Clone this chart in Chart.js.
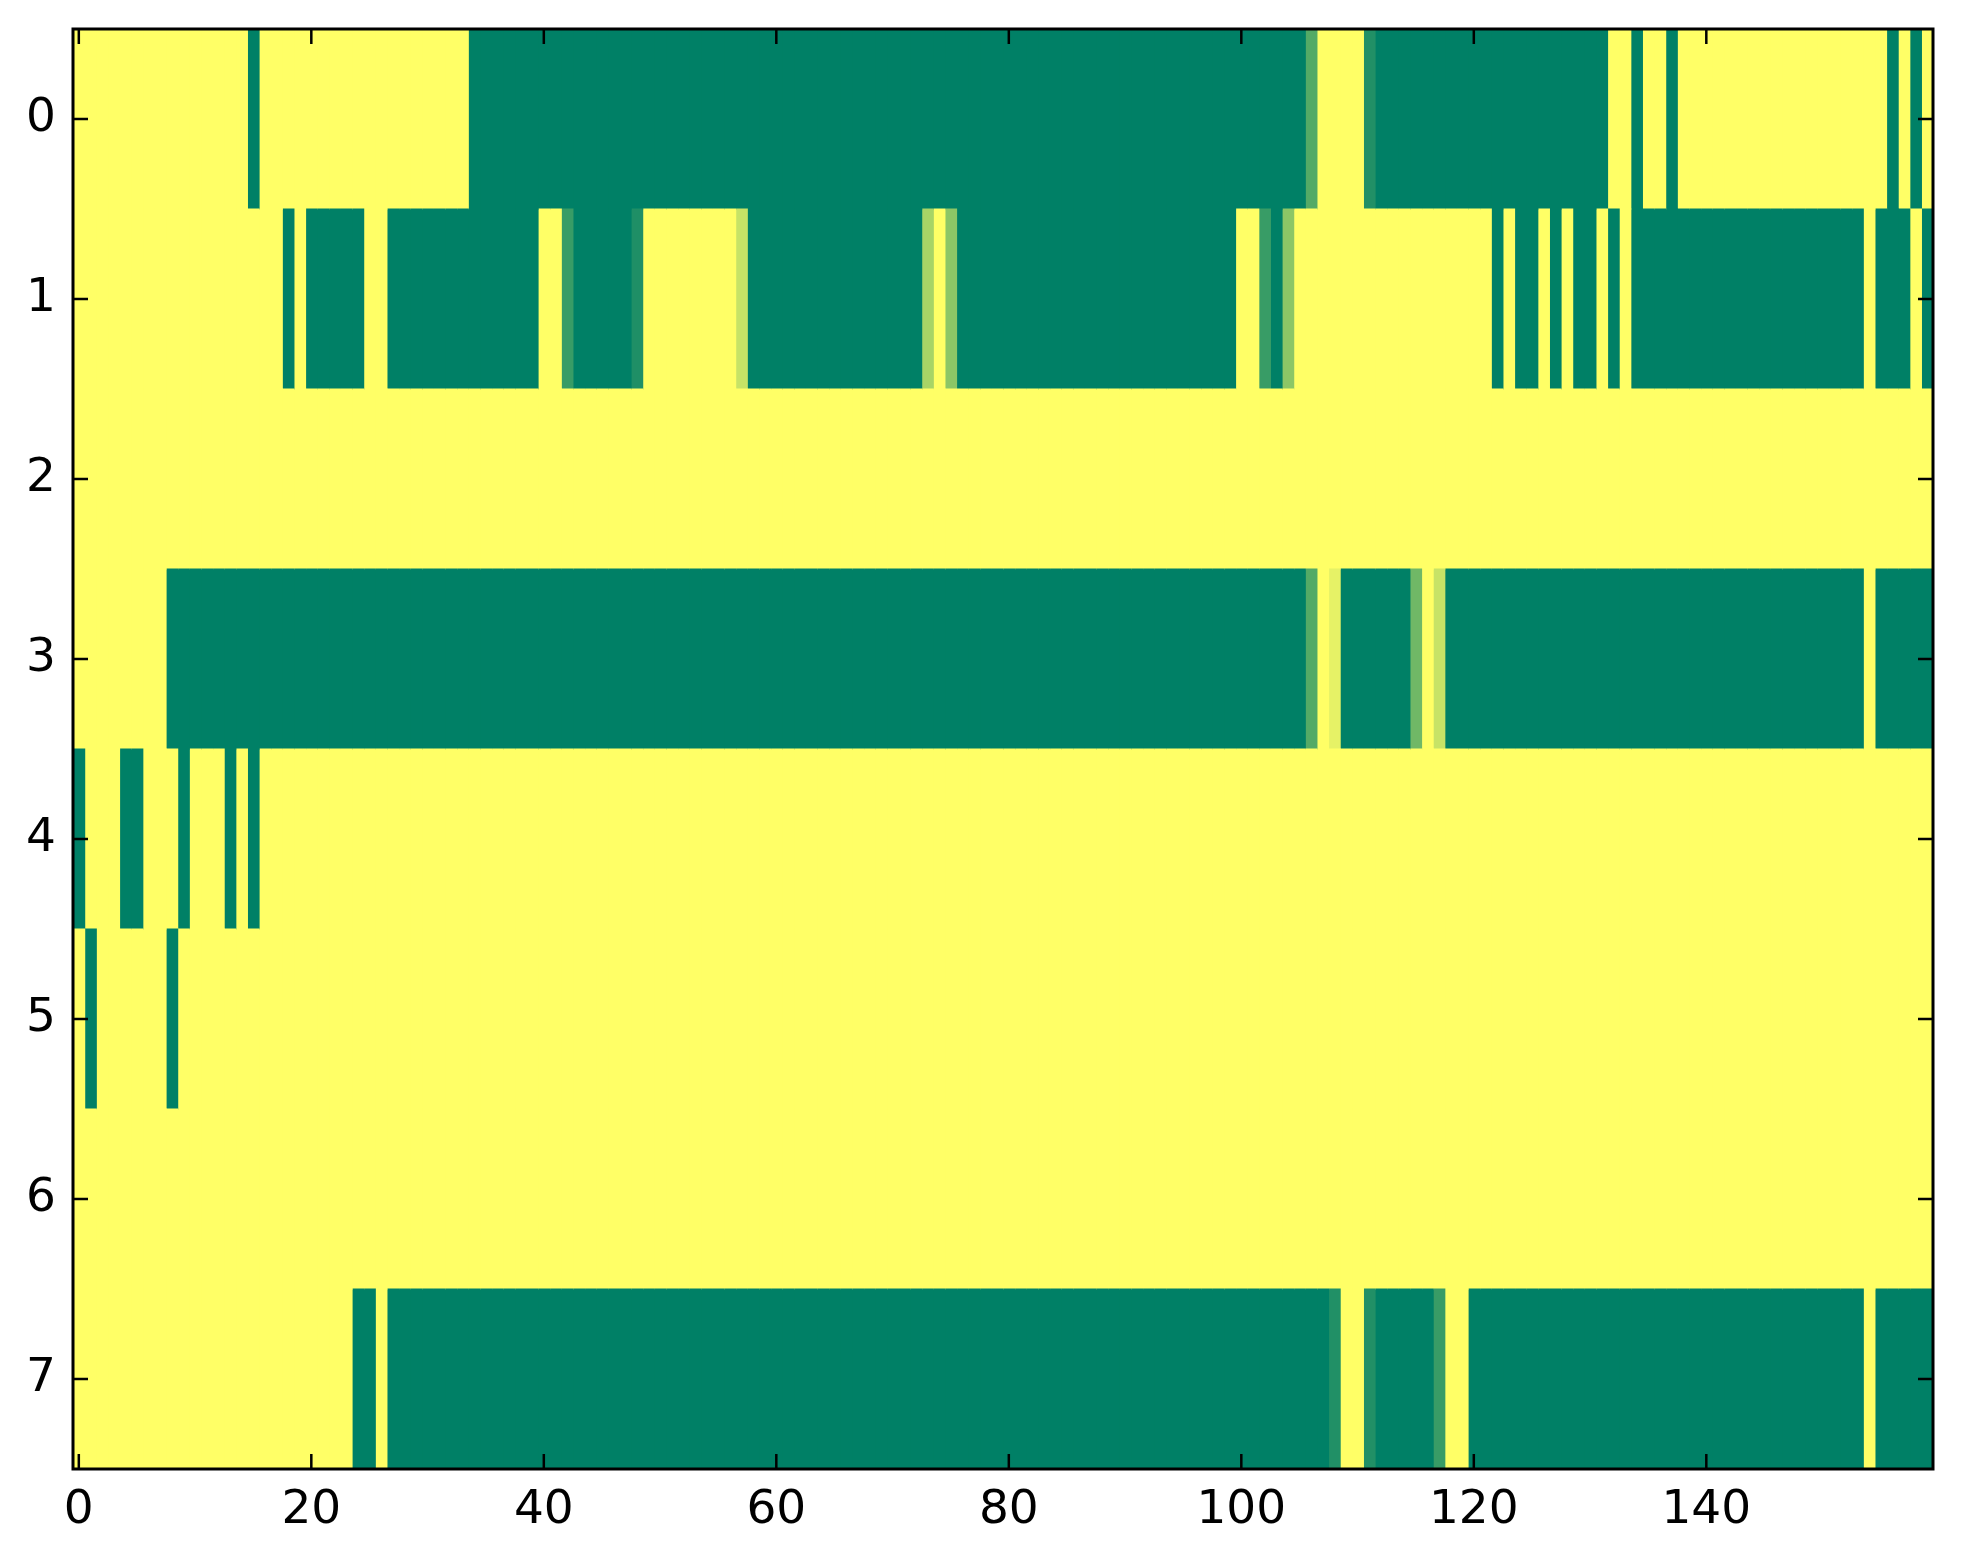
<!DOCTYPE html>
<html>
<head>
<meta charset="utf-8">
<script src="https://cdn.jsdelivr.net/npm/chart.js@4.4.1/dist/chart.umd.min.js"></script>
<style>
  html, body { margin: 0; padding: 0; background: #fff; }
  #wrap { width: 1963px; height: 1564px; }
</style>
</head>
<body>
<div id="wrap"><canvas id="heat" width="1963" height="1564"></canvas></div>
<script>
// ── data: one array per image row, one value per column (0 = green, 1 = yellow) ──
const ROW_LABELS = ['0', '1', '2', '3', '4', '5', '6', '7'];
const X_TICKS    = [0, 20, 40, 60, 80, 100, 120, 140];

const row0 = [
  1, 1, 1, 1, 1, 1, 1, 1, 1, 1, 1, 1, 1, 1, 1, 0, 1, 1, 1, 1,         // 0-19
  1, 1, 1, 1, 1, 1, 1, 1, 1, 1, 1, 1, 1, 1, 0, 0, 0, 0, 0, 0,         // 20-39
  0, 0, 0, 0, 0, 0, 0, 0, 0, 0, 0, 0, 0, 0, 0, 0, 0, 0, 0, 0,         // 40-59
  0, 0, 0, 0, 0, 0, 0, 0, 0, 0, 0, 0, 0, 0, 0, 0, 0, 0, 0, 0,         // 60-79
  0, 0, 0, 0, 0, 0, 0, 0, 0, 0, 0, 0, 0, 0, 0, 0, 0, 0, 0, 0,         // 80-99
  0, 0, 0, 0, 0, 0, 0.33, 1, 1, 1, 1, 0.13, 0, 0, 0, 0, 0, 0, 0, 0,   // 100-119
  0, 0, 0, 0, 0, 0, 0, 0, 0, 0, 0, 0, 1, 1, 0, 1, 1, 0, 1, 1,         // 120-139
  1, 1, 1, 1, 1, 1, 1, 1, 1, 1, 1, 1, 1, 1, 1, 1, 0, 1, 0, 1,         // 140-159
];
const row1 = [
  1, 1, 1, 1, 1, 1, 1, 1, 1, 1, 1, 1, 1, 1, 1, 1, 1, 1, 0, 1,
  0, 0, 0, 0, 0, 1, 1, 0, 0, 0, 0, 0, 0, 0, 0, 0, 0, 0, 0, 0,
  1, 1, 0.22, 0, 0, 0, 0, 0, 0.12, 1, 1, 1, 1, 1, 1, 1, 1, 0.78, 0, 0,
  0, 0, 0, 0, 0, 0, 0, 0, 0, 0, 0, 0, 0, 0.66, 1, 0.55, 0, 0, 0, 0,
  0, 0, 0, 0, 0, 0, 0, 0, 0, 0, 0, 0, 0, 0, 0, 0, 0, 0, 0, 0,
  1, 1, 0.22, 0, 0.55, 1, 1, 1, 1, 1, 1, 1, 1, 1, 1, 1, 1, 1, 1, 1,
  1, 1, 0, 1, 0, 0, 1, 0, 1, 0, 0, 1, 0, 1, 0, 0, 0, 0, 0, 0,
  0, 0, 0, 0, 0, 0, 0, 0, 0, 0, 0, 0, 0, 0, 1, 0, 0, 0, 1, 0,
];
const row2 = [
  1, 1, 1, 1, 1, 1, 1, 1, 1, 1, 1, 1, 1, 1, 1, 1, 1, 1, 1, 1,
  1, 1, 1, 1, 1, 1, 1, 1, 1, 1, 1, 1, 1, 1, 1, 1, 1, 1, 1, 1,
  1, 1, 1, 1, 1, 1, 1, 1, 1, 1, 1, 1, 1, 1, 1, 1, 1, 1, 1, 1,
  1, 1, 1, 1, 1, 1, 1, 1, 1, 1, 1, 1, 1, 1, 1, 1, 1, 1, 1, 1,
  1, 1, 1, 1, 1, 1, 1, 1, 1, 1, 1, 1, 1, 1, 1, 1, 1, 1, 1, 1,
  1, 1, 1, 1, 1, 1, 1, 1, 1, 1, 1, 1, 1, 1, 1, 1, 1, 1, 1, 1,
  1, 1, 1, 1, 1, 1, 1, 1, 1, 1, 1, 1, 1, 1, 1, 1, 1, 1, 1, 1,
  1, 1, 1, 1, 1, 1, 1, 1, 1, 1, 1, 1, 1, 1, 1, 1, 1, 1, 1, 1,
];
const row3 = [
  1, 1, 1, 1, 1, 1, 1, 1, 0, 0, 0, 0, 0, 0, 0, 0, 0, 0, 0, 0,
  0, 0, 0, 0, 0, 0, 0, 0, 0, 0, 0, 0, 0, 0, 0, 0, 0, 0, 0, 0,
  0, 0, 0, 0, 0, 0, 0, 0, 0, 0, 0, 0, 0, 0, 0, 0, 0, 0, 0, 0,
  0, 0, 0, 0, 0, 0, 0, 0, 0, 0, 0, 0, 0, 0, 0, 0, 0, 0, 0, 0,
  0, 0, 0, 0, 0, 0, 0, 0, 0, 0, 0, 0, 0, 0, 0, 0, 0, 0, 0, 0,
  0, 0, 0, 0, 0, 0, 0.33, 1, 0.9, 0, 0, 0, 0, 0, 0, 0.44, 1, 0.78, 0, 0,
  0, 0, 0, 0, 0, 0, 0, 0, 0, 0, 0, 0, 0, 0, 0, 0, 0, 0, 0, 0,
  0, 0, 0, 0, 0, 0, 0, 0, 0, 0, 0, 0, 0, 0, 1, 0, 0, 0, 0, 0,
];
const row4 = [
  0, 1, 1, 1, 0, 0, 1, 1, 1, 0, 1, 1, 1, 0, 1, 0, 1, 1, 1, 1,
  1, 1, 1, 1, 1, 1, 1, 1, 1, 1, 1, 1, 1, 1, 1, 1, 1, 1, 1, 1,
  1, 1, 1, 1, 1, 1, 1, 1, 1, 1, 1, 1, 1, 1, 1, 1, 1, 1, 1, 1,
  1, 1, 1, 1, 1, 1, 1, 1, 1, 1, 1, 1, 1, 1, 1, 1, 1, 1, 1, 1,
  1, 1, 1, 1, 1, 1, 1, 1, 1, 1, 1, 1, 1, 1, 1, 1, 1, 1, 1, 1,
  1, 1, 1, 1, 1, 1, 1, 1, 1, 1, 1, 1, 1, 1, 1, 1, 1, 1, 1, 1,
  1, 1, 1, 1, 1, 1, 1, 1, 1, 1, 1, 1, 1, 1, 1, 1, 1, 1, 1, 1,
  1, 1, 1, 1, 1, 1, 1, 1, 1, 1, 1, 1, 1, 1, 1, 1, 1, 1, 1, 1,
];
const row5 = [
  1, 0, 1, 1, 1, 1, 1, 1, 0, 1, 1, 1, 1, 1, 1, 1, 1, 1, 1, 1,
  1, 1, 1, 1, 1, 1, 1, 1, 1, 1, 1, 1, 1, 1, 1, 1, 1, 1, 1, 1,
  1, 1, 1, 1, 1, 1, 1, 1, 1, 1, 1, 1, 1, 1, 1, 1, 1, 1, 1, 1,
  1, 1, 1, 1, 1, 1, 1, 1, 1, 1, 1, 1, 1, 1, 1, 1, 1, 1, 1, 1,
  1, 1, 1, 1, 1, 1, 1, 1, 1, 1, 1, 1, 1, 1, 1, 1, 1, 1, 1, 1,
  1, 1, 1, 1, 1, 1, 1, 1, 1, 1, 1, 1, 1, 1, 1, 1, 1, 1, 1, 1,
  1, 1, 1, 1, 1, 1, 1, 1, 1, 1, 1, 1, 1, 1, 1, 1, 1, 1, 1, 1,
  1, 1, 1, 1, 1, 1, 1, 1, 1, 1, 1, 1, 1, 1, 1, 1, 1, 1, 1, 1,
];
const row6 = [
  1, 1, 1, 1, 1, 1, 1, 1, 1, 1, 1, 1, 1, 1, 1, 1, 1, 1, 1, 1,
  1, 1, 1, 1, 1, 1, 1, 1, 1, 1, 1, 1, 1, 1, 1, 1, 1, 1, 1, 1,
  1, 1, 1, 1, 1, 1, 1, 1, 1, 1, 1, 1, 1, 1, 1, 1, 1, 1, 1, 1,
  1, 1, 1, 1, 1, 1, 1, 1, 1, 1, 1, 1, 1, 1, 1, 1, 1, 1, 1, 1,
  1, 1, 1, 1, 1, 1, 1, 1, 1, 1, 1, 1, 1, 1, 1, 1, 1, 1, 1, 1,
  1, 1, 1, 1, 1, 1, 1, 1, 1, 1, 1, 1, 1, 1, 1, 1, 1, 1, 1, 1,
  1, 1, 1, 1, 1, 1, 1, 1, 1, 1, 1, 1, 1, 1, 1, 1, 1, 1, 1, 1,
  1, 1, 1, 1, 1, 1, 1, 1, 1, 1, 1, 1, 1, 1, 1, 1, 1, 1, 1, 1,
];
const row7 = [
  1, 1, 1, 1, 1, 1, 1, 1, 1, 1, 1, 1, 1, 1, 1, 1, 1, 1, 1, 1,
  1, 1, 1, 1, 0, 0, 1, 0, 0, 0, 0, 0, 0, 0, 0, 0, 0, 0, 0, 0,
  0, 0, 0, 0, 0, 0, 0, 0, 0, 0, 0, 0, 0, 0, 0, 0, 0, 0, 0, 0,
  0, 0, 0, 0, 0, 0, 0, 0, 0, 0, 0, 0, 0, 0, 0, 0, 0, 0, 0, 0,
  0, 0, 0, 0, 0, 0, 0, 0, 0, 0, 0, 0, 0, 0, 0, 0, 0, 0, 0, 0,
  0, 0, 0, 0, 0, 0, 0, 0, 0.13, 1, 1, 0.13, 0, 0, 0, 0, 0, 0.22, 1, 1,
  0, 0, 0, 0, 0, 0, 0, 0, 0, 0, 0, 0, 0, 0, 0, 0, 0, 0, 0, 0,
  0, 0, 0, 0, 0, 0, 0, 0, 0, 0, 0, 0, 0, 0, 1, 0, 0, 0, 0, 0,
];

const ROWS  = [row0, row1, row2, row3, row4, row5, row6, row7];
const NCOLS = row0.length;

const FONT = { family: 'DejaVu Sans', size: 47 };

// matplotlib "summer" colormap: green (0) -> yellow (1)
function summer(v) {
  const r = Math.round(255 * v);
  const g = Math.round(255 * (0.5 + 0.5 * v));
  return `rgb(${r},${g},102)`;
}

// ── one floating-bar dataset per column, one bar per row ──
const datasets = [];
for (let c = 0; c < NCOLS; c++) {
  datasets.push({
    data: ROWS.map(() => [c - 0.5, c + 0.5]),
    backgroundColor: ROWS.map(r => summer(r[c])),
    borderWidth: 0,
    inflateAmount: 0.6,
    grouped: false,
    categoryPercentage: 1,
    barPercentage: 1,
  });
}

// frame + inward ticks on all four sides (matplotlib classic look)
const frameTicks = {
  id: 'frameTicks',
  afterDatasetsDraw(chart) {
    const { ctx, chartArea: a, scales: { x, y } } = chart;
    const len = 15;
    ctx.save();
    ctx.strokeStyle = '#000';
    ctx.lineWidth = 2.5;
    ctx.beginPath();
    X_TICKS.forEach(v => {
      const px = x.getPixelForValue(v);
      ctx.moveTo(px, a.bottom); ctx.lineTo(px, a.bottom - len);
      ctx.moveTo(px, a.top);    ctx.lineTo(px, a.top + len);
    });
    ROW_LABELS.forEach((_, i) => {
      const py = y.getPixelForValue(i);
      ctx.moveTo(a.left, py);  ctx.lineTo(a.left + len, py);
      ctx.moveTo(a.right, py); ctx.lineTo(a.right - len, py);
    });
    ctx.stroke();
    ctx.lineWidth = 3;
    ctx.strokeRect(a.left, a.top, a.right - a.left, a.bottom - a.top);
    ctx.restore();
  },
};

new Chart(document.getElementById('heat'), {
  type: 'bar',
  data: { labels: ROW_LABELS, datasets },
  options: {
    indexAxis: 'y',
    responsive: false,
    animation: false,
    devicePixelRatio: 1,
    layout: { padding: { top: 29, right: 30, left: 0, bottom: 0 } },
    plugins: { legend: { display: false }, tooltip: { enabled: false } },
    scales: {
      x: {
        type: 'linear',
        min: -0.5,
        max: 159.5,
        grid: { display: false, drawTicks: false },
        border: { display: false },
        afterBuildTicks: s => { s.ticks = X_TICKS.map(v => ({ value: v })); },
        ticks: {
          color: '#000',
          font: FONT,
          padding: 14,
          maxRotation: 0,
        },
        afterFit: s => {
          s.height = 95;
          s.paddingLeft = 0;
          s.paddingRight = 0;
        },
      },
      y: {
        type: 'category',
        grid: { display: false, drawTicks: false },
        border: { display: false },
        ticks: { color: '#000', font: FONT, padding: 17 },
        afterFit: s => {
          s.width = 73;
          s.paddingTop = 0;
          s.paddingBottom = 0;
        },
      },
    },
  },
  plugins: [frameTicks],
});
</script>
</body>
</html>
